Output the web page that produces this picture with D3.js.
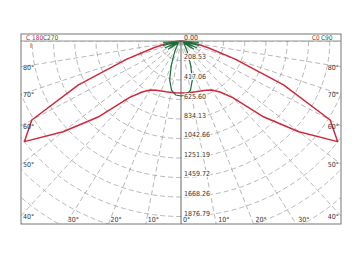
<!DOCTYPE html>
<html>
<head>
<meta charset="utf-8">
<script src="https://cdn.jsdelivr.net/npm/d3@7"></script>
<style>
  body { margin: 0; background: #fff; }
  svg text { font-family: "Liberation Sans Narrow", "DejaVu Sans Condensed", sans-serif; }
</style>
</head>
<body>
<svg id="chart" width="363" height="259"></svg>
<script>
// angles from nadir (deg) and intensities (cd)
var angles = [0, 5, 10, 15, 20, 25, 30, 35, 40, 45, 50, 55, 60, 65, 70, 75, 80, 85, 90];
var c0c180 = [555, 555, 558, 562, 568, 580, 605, 665, 790, 1150, 1510, 1876, 1690, 1110, 560, 270, 130, 50, 0];
var c90c270 = [588, 580, 535, 430, 280, 170, 110, 75, 55, 45, 38, 150, 30, 170, 30, 180, 25, 170, 0];

var ringValues = [208.53, 417.06, 625.60, 834.13, 1042.66, 1251.19, 1459.72, 1668.26, 1876.79];
var ringLabels = ["208.53", "417.06", "625.60", "834.13", "1042.66", "1251.19", "1459.72", "1668.26", "1876.79"];
var gridAngles = [-90, -80, -70, -60, -50, -40, -30, -20, -10, 0, 10, 20, 30, 40, 50, 60, 70, 80, 90];
var sideTicks = [40, 50, 60, 70, 80];
var bottomTicks = [0, 10, 20, 30];

var svg = d3.select("#chart");
var frame = {x0: 21, y0: 34, x1: 341, y1: 224, header: 41};
var cx = 181, cy = frame.header;

// picture is a bit stretched sideways, so x and y radius scales differ
var rY = d3.scaleLinear().domain([0, 1876.79]).range([0, 175.5]);
var rX = d3.scaleLinear().domain([0, 1876.79]).range([0, 191.3]);
var red = "#d0283a", green = "#17703a", grid = "#999";

function px(a, v) { return cx + rX(v) * Math.sin(a * Math.PI / 180); }
function py(a, v) { return cy + rY(v) * Math.cos(a * Math.PI / 180); }

svg.append("clipPath").attr("id", "plotClip")
   .append("rect")
   .attr("x", frame.x0).attr("y", frame.header)
   .attr("width", frame.x1 - frame.x0).attr("height", frame.y1 - frame.header);

var g = svg.append("g").attr("clip-path", "url(#plotClip)");

// rings (extend past the frame, clipped)
var allRings = ringValues.concat([2085.32, 2293.85, 2502.38, 2710.91]);
allRings.forEach(function(v) {
  g.append("ellipse")
   .attr("cx", cx).attr("cy", cy)
   .attr("rx", rX(v)).attr("ry", rY(v))
   .attr("fill", "none")
   .attr("stroke", grid)
   .attr("stroke-width", 0.7)
   .attr("stroke-dasharray", "5,3");
});

// radial lines
gridAngles.forEach(function(a) {
  g.append("line")
   .attr("x1", cx).attr("y1", cy)
   .attr("x2", px(a, 4000)).attr("y2", py(a, 4000))
   .attr("stroke", a == 0 ? "#555" : grid)
   .attr("stroke-width", a == 0 ? 0.9 : 0.7)
   .attr("stroke-dasharray", a == 0 ? null : "5,3");
});

// curves, mirrored on both halves
function curvePoints(vals) {
  var pts = [];
  for (var i = angles.length - 1; i >= 0; i--) pts.push([px(-angles[i], vals[i]), py(-angles[i], vals[i])]);
  for (var j = 1; j < angles.length; j++) pts.push([px(angles[j], vals[j]), py(angles[j], vals[j])]);
  return pts;
}
var line = d3.line();

svg.append("path")
   .attr("d", line(curvePoints(c0c180)))
   .attr("fill", "none")
   .attr("stroke", red)
   .attr("stroke-width", 1.5)
   .attr("stroke-linejoin", "round");

svg.append("path")
   .attr("d", line(curvePoints(c90c270)))
   .attr("fill", "none")
   .attr("stroke", green)
   .attr("stroke-width", 1.2)
   .attr("stroke-linejoin", "round");

// frame and header line
svg.append("rect")
   .attr("x", frame.x0).attr("y", frame.y0)
   .attr("width", frame.x1 - frame.x0).attr("height", frame.y1 - frame.y0)
   .attr("fill", "none")
   .attr("stroke", "#777")
   .attr("stroke-width", 1);
svg.append("line")
   .attr("x1", frame.x0).attr("x2", frame.x1)
   .attr("y1", frame.header).attr("y2", frame.header)
   .attr("stroke", "#777")
   .attr("stroke-width", 0.8);

// ring labels down the 0 line
svg.append("text")
   .text("0.00")
   .attr("x", cx + 3).attr("y", cy - 1)
   .style("font-size", "7px").attr("fill", "#333");
ringValues.forEach(function(v, i) {
  svg.append("text")
     .text(ringLabels[i])
     .attr("x", cx + 3).attr("y", cy + rY(v) - 1)
     .style("font-size", "7px")
     .attr("fill", "#333")
     .attr("stroke", "#fff").attr("stroke-width", 2)
     .attr("paint-order", "stroke");
});

// angle labels on the sides
sideTicks.forEach(function(a) {
  var t = Math.tan(a * Math.PI / 180);
  var yl = cy + rY(rX.invert(cx - frame.x0) / t);
  var yr = cy + rY(rX.invert(frame.x1 - cx) / t);
  svg.append("text").text(a + "°")
     .attr("x", frame.x0 + 2).attr("y", yl + 3)
     .style("font-size", "7px").attr("fill", "#333");
  svg.append("text").text(a + "°")
     .attr("x", frame.x1 - 2).attr("y", yr + 3)
     .attr("text-anchor", "end")
     .style("font-size", "7px").attr("fill", "#333");
});

// angle labels along the bottom
bottomTicks.forEach(function(a) {
  var dx = rX(rY.invert(frame.y1 - cy) * Math.tan(a * Math.PI / 180));
  var sides = a == 0 ? [1] : [-1, 1];
  sides.forEach(function(s) {
    svg.append("text").text(a + "°")
       .attr("x", cx + s * dx + 2).attr("y", frame.y1 - 2)
       .style("font-size", "7px").attr("fill", "#333");
  });
});

svg.append("text").text("I")
   .attr("x", frame.x0 + 9).attr("y", frame.header + 7)
   .style("font-size", "7px").attr("fill", "#333");

// header legend
svg.append("text").text("C 180")
   .attr("x", frame.x0 + 5).attr("y", frame.header - 1.5)
   .style("font-size", "6.5px").attr("fill", red);
svg.append("text").text("C270")
   .attr("x", frame.x0 + 22).attr("y", frame.header - 1.5)
   .style("font-size", "6.5px").attr("fill", green);
svg.append("text").text("C0")
   .attr("x", frame.x1 - 29).attr("y", frame.header - 1.5)
   .style("font-size", "6.5px").attr("fill", red);
svg.append("text").text("C90")
   .attr("x", frame.x1 - 20).attr("y", frame.header - 1.5)
   .style("font-size", "6.5px").attr("fill", green);
</script>
</body>
</html>
